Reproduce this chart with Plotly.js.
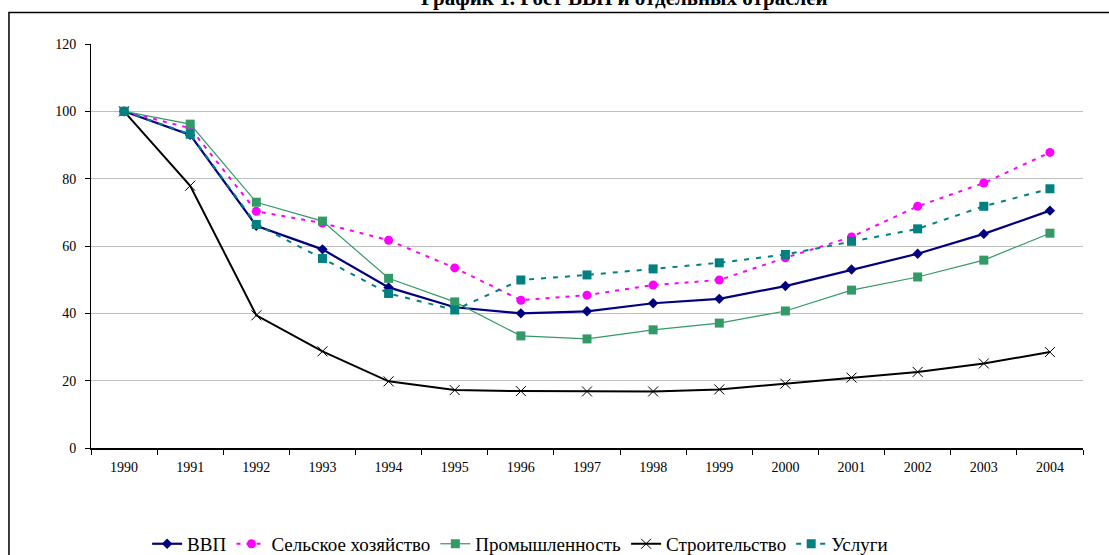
<!DOCTYPE html>
<html>
<head>
<meta charset="utf-8">
<script src="https://cdn.plot.ly/plotly-3.0.1.min.js"></script>
<style>
html,body{margin:0;padding:0;background:#fff;overflow:hidden;}
#chart{width:1109px;height:555px;}
</style>
</head>
<body>
<div id="chart"></div>
<script>
const years = ["1990","1991","1992","1993","1994","1995","1996","1997","1998","1999","2000","2001","2002","2003","2004"];
const gdp = [100, 93.0, 66.0, 59.0, 47.7, 41.8, 40.0, 40.6, 43.0, 44.3, 48.1, 53.0, 57.7, 63.6, 70.5];
const agriculture = [100, 95.0, 70.3, 66.8, 61.7, 53.5, 43.9, 45.4, 48.4, 49.9, 56.5, 62.7, 71.8, 78.7, 87.8];
const industry = [100, 96.2, 73.0, 67.4, 50.4, 43.4, 33.3, 32.4, 35.1, 37.1, 40.7, 46.9, 50.8, 55.8, 63.8];
const construction = [100, 77.9, 39.4, 28.7, 19.8, 17.2, 16.9, 16.8, 16.8, 17.4, 19.1, 20.9, 22.6, 25.1, 28.5];
const services = [100, 93.2, 66.4, 56.3, 45.9, 41.0, 49.9, 51.4, 53.2, 55.0, 57.5, 61.4, 65.1, 71.8, 77.0];
const seriesNames = ["ВВП", "Сельское хозяйство", "Промышленность", "Строительство", "Услуги"];
const titleText = "График 1. Рост ВВП и отдельных отраслей";

const serif = "'Liberation Serif', 'Times New Roman', serif";

const traces = [
  {x: years, y: gdp, name: seriesNames[0], type: 'scatter', mode: 'lines+markers',
   line: {color: '#000080', width: 2.2}, marker: {symbol: 'diamond', size: 8, color: '#000080'}},
  {x: years, y: agriculture, name: seriesNames[1], type: 'scatter', mode: 'lines+markers',
   line: {color: '#FF00FF', width: 2, dash: '4px,6px'}, marker: {symbol: 'circle', size: 9, color: '#FF00FF'}},
  {x: years, y: industry, name: seriesNames[2], type: 'scatter', mode: 'lines+markers',
   line: {color: '#339966', width: 1.2}, marker: {symbol: 'square', size: 9, color: '#339966'}},
  {x: years, y: construction, name: seriesNames[3], type: 'scatter', mode: 'lines+markers',
   line: {color: '#000000', width: 2}, marker: {symbol: 'x-thin', size: 10, color: '#000000', line: {color: '#000000', width: 1}}},
  {x: years, y: services, name: seriesNames[4], type: 'scatter', mode: 'lines+markers',
   line: {color: '#008080', width: 2, dash: '5px,7px'}, marker: {symbol: 'square', size: 9, color: '#008080'}}
];

const layout = {
  width: 1109, height: 555,
  margin: {l: 91, r: 26, t: 43.5, b: 106.5, pad: 0, autoexpand: false},
  paper_bgcolor: '#ffffff', plot_bgcolor: '#ffffff',
  font: {family: serif, size: 14, color: '#000'},
  showlegend: true,
  xaxis: {
    type: 'category', range: [-0.5, 14.5], fixedrange: true, automargin: false,
    showline: true, linecolor: '#000', linewidth: 1.5,
    ticks: 'outside', tickson: 'boundaries', ticklen: 5, tickcolor: '#000', tickwidth: 1,
    ticklabelstandoff: 6,
    showgrid: false, zeroline: false,
    tickfont: {family: serif, size: 14, color: '#000'}
  },
  yaxis: {
    range: [0, 120], dtick: 20, tick0: 0, fixedrange: true, automargin: false,
    showline: true, linecolor: '#000', linewidth: 1,
    ticks: 'outside', ticklen: 5, tickcolor: '#000', tickwidth: 1,
    ticklabelstandoff: 6,
    showgrid: true, gridcolor: '#c0c0c0', gridwidth: 1,
    zeroline: false,
    tickfont: {family: serif, size: 14, color: '#000'}
  },
  legend: {
    orientation: 'h', xref: 'container', yref: 'container',
    x: 0.469, xanchor: 'center', y: 0.02, yanchor: 'middle',
    font: {family: serif, size: 19, color: '#000'},
    bgcolor: 'rgba(0,0,0,0)', itemwidth: 30, tracegroupgap: 0
  },
  annotations: [{
    text: '<b>' + titleText + '</b>', xref: 'paper', yref: 'paper',
    x: 0.538, y: 1.078, xanchor: 'center', yanchor: 'bottom', showarrow: false,
    font: {family: serif, size: 21, color: '#000'}
  }],
  shapes: [{
    type: 'rect', xref: 'paper', yref: 'paper',
    x0: -0.0827, x1: 1.05, y0: -0.6, y1: 1.078,
    line: {color: '#000', width: 1.5}, fillcolor: 'rgba(0,0,0,0)', layer: 'below'
  }]
};

Plotly.newPlot('chart', traces, layout, {displayModeBar: false, staticPlot: true});
</script>
</body>
</html>
